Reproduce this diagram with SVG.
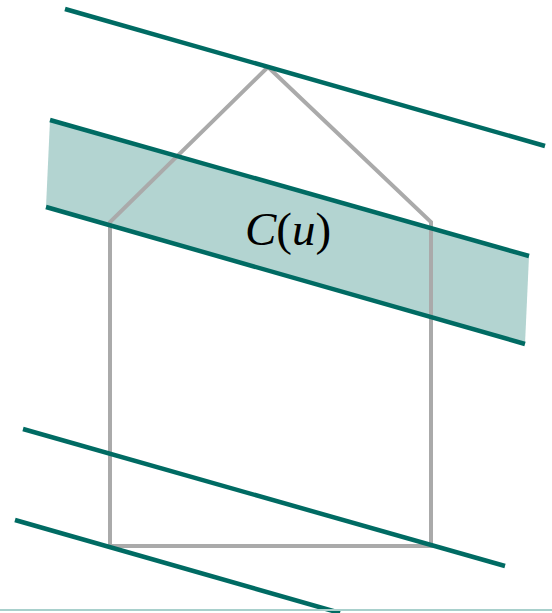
<svg xmlns="http://www.w3.org/2000/svg" width="552" height="613" viewBox="0 0 552 613">
<style>
.ln{stroke:#006b63;stroke-width:4.5;fill:none}
.house{stroke:#aaaaaa;stroke-width:4;fill:none;stroke-linejoin:miter}
.lbl{font-family:"Liberation Serif","DejaVu Serif",serif;font-size:47px;fill:#000}
</style>
<rect width="552" height="613" fill="#ffffff"/>
<g id="band">
<polygon points="50,120 529,256 525,344 46,207" fill="#b3d4d1"/>
</g>
<g id="house">
<polyline class="house" points="268,67 110,222 110,546 431,546 431,222 268,67"/>
</g>
<g id="lines">
<line class="ln" x1="65" y1="9" x2="545" y2="146"/>
<line class="ln" x1="50" y1="120" x2="529" y2="256"/>
<line class="ln" x1="46" y1="207" x2="525" y2="344"/>
<line class="ln" x1="23" y1="429" x2="505" y2="566"/>
<line class="ln" x1="15" y1="520" x2="340" y2="613"/>
</g>
<g id="label">
<text class="lbl" x="288" y="245" text-anchor="middle"><tspan font-style="italic">C</tspan>(<tspan font-style="italic">u</tspan>)</text>
</g>
<line x1="0" y1="610" x2="552" y2="610" stroke="#a8d0cc" stroke-width="2"/>
</svg>
